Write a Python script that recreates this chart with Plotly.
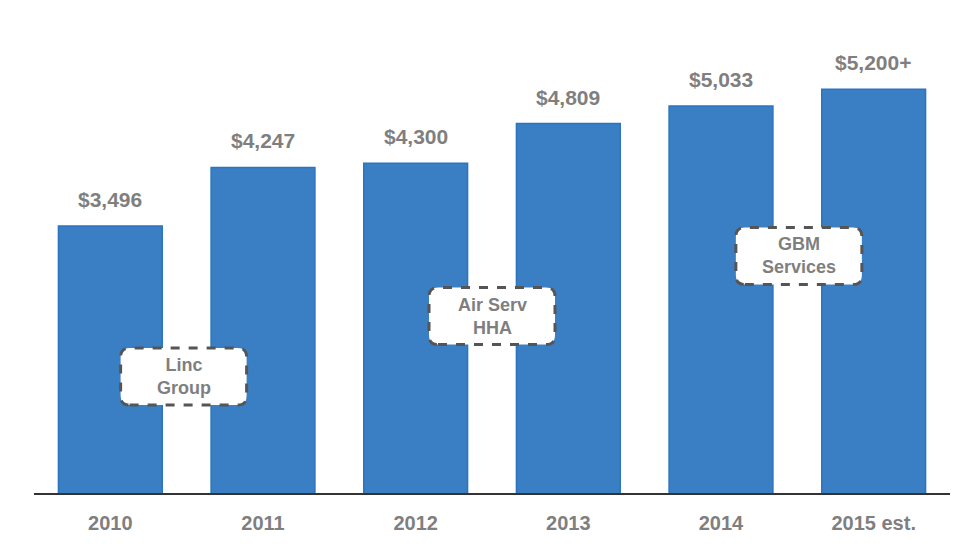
import plotly.graph_objects as go

# ---- data ----
years = ["2010", "2011", "2012", "2013", "2014", "2015 est."]
revenue = [3496, 4247, 4300, 4809, 5033, 5250]
value_labels = ["$3,496", "$4,247", "$4,300", "$4,809", "$5,033", "$5,200+"]
acquisitions = ["Linc<br>Group", "Air Serv<br>HHA", "GBM<br>Services"]

# placement of acquisition call-outs (category index, value axis)
callout_x = [0.48, 2.5, 4.51]
callout_y = [1569, 2344, 3113]

GRAY = "#7f7f7f"
FONT = "Liberation Sans, Arial, sans-serif"

fig = go.Figure()
fig.add_trace(go.Bar(
    x=list(range(len(years))),
    y=revenue,
    marker=dict(color="#3a7ec3", line=dict(color="#2b74c0", width=1.5)),
    hoverinfo="skip",
))

annotations = []
for i, (v, t) in enumerate(zip(revenue, value_labels)):
    annotations.append(dict(
        x=i, y=v, xref="x", yref="y", text=t, showarrow=False,
        yanchor="bottom", yshift=13,
        font=dict(family=FONT, size=21, color=GRAY, weight="bold"),
    ))

def rounded_rect(w, h, r):
    x0, x1 = -w / 2, w / 2
    y0, y1 = -h / 2, h / 2
    return (f"M {x0 + r},{y0} L {x1 - r},{y0} Q {x1},{y0} {x1},{y0 + r} "
            f"L {x1},{y1 - r} Q {x1},{y1} {x1 - r},{y1} "
            f"L {x0 + r},{y1} Q {x0},{y1} {x0},{y1 - r} "
            f"L {x0},{y0 + r} Q {x0},{y0} {x0 + r},{y0} Z")

shapes = []
for cx, cy, txt in zip(callout_x, callout_y, acquisitions):
    shapes.append(dict(
        type="path", xref="x", yref="y", xsizemode="pixel", ysizemode="pixel",
        xanchor=cx, yanchor=cy, path=rounded_rect(126, 57, 9),
        fillcolor="white", line=dict(color="#555555", width=3, dash="dash"),
        layer="above",
    ))
    annotations.append(dict(
        x=cx, y=cy, xref="x", yref="y", text=txt, showarrow=False,
        font=dict(family=FONT, size=18, color=GRAY, weight="bold"),
        align="center",
    ))

fig.update_layout(
    width=951, height=536,
    margin=dict(l=26, r=9, t=12, b=51),
    paper_bgcolor="white", plot_bgcolor="white",
    bargap=0.32, showlegend=False,
    annotations=annotations, shapes=shapes,
    xaxis=dict(
        tickmode="array", tickvals=list(range(len(years))), ticktext=years,
        range=[-0.5, 5.5], showgrid=False, zeroline=False,
        showline=True, linecolor="#333333", linewidth=2, ticks="",
        tickfont=dict(family=FONT, size=20, color=GRAY, weight="bold"),
        ticklabelstandoff=11, fixedrange=True,
    ),
    yaxis=dict(range=[77, 6136], visible=False, showgrid=False, zeroline=False,
               fixedrange=True),
)

fig.write_html("out.html", config={"displayModeBar": False})
